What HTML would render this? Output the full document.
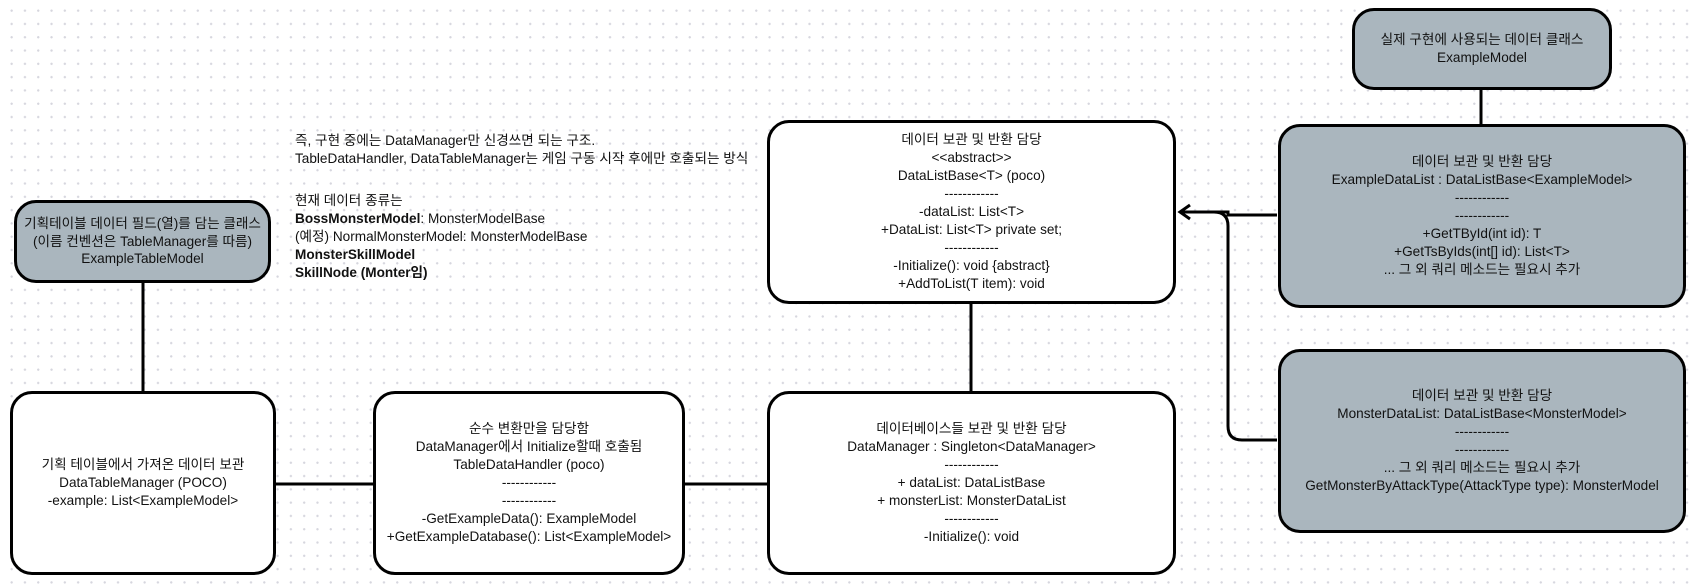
<!DOCTYPE html>
<html><head><meta charset="utf-8"><style>
body{margin:0;width:1696px;height:585px;overflow:hidden;background-color:#fff;
background-image:radial-gradient(circle,#d6d6de 1px,transparent 1.3px);background-size:13.3px 13.3px;background-position:5px 4px;
font-family:"Liberation Sans","Noto Sans CJK KR",sans-serif;font-size:13.6px;color:#111;position:relative}
.b{position:absolute;box-sizing:border-box;border:3px solid #000;border-radius:22px;background:#fff;display:flex;align-items:center;justify-content:center;text-align:center;line-height:17.9px;white-space:nowrap}
.g{background:#aab6be}
.t{position:absolute;line-height:18px;white-space:nowrap}
svg{position:absolute;left:0;top:0}
</style></head><body>
<svg width="1696" height="585">
<g stroke="#000" stroke-width="3" fill="none">
<line x1="143" y1="282" x2="143" y2="392"/>
<line x1="276" y1="484" x2="373" y2="484"/>
<line x1="685" y1="484" x2="767" y2="484"/>
<line x1="971" y1="304" x2="971" y2="392"/>
<line x1="1481" y1="90" x2="1481" y2="124"/>
<path d="M1277 215 L1228 215 L1228 212 L1180 212"/>
<path d="M1277 440 L1242 440 Q1228 440 1228 426 L1228 226 Q1228 212 1214 212"/>
<path d="M1190 205 L1180 212 L1190 219"/>
</g>
</svg>
<div class="b g" style="left:1352px;top:8px;width:260px;height:82px">실제 구현에 사용되는 데이터 클래스<br>ExampleModel</div>
<div class="b g" style="left:1278px;top:124px;width:408px;height:184px">데이터 보관 및 반환 담당<br>ExampleDataList : DataListBase&lt;ExampleModel&gt;<br>------------<br>------------<br>+GetTById(int id): T<br>+GetTsByIds(int[] id): List&lt;T&gt;<br>... 그 외 쿼리 메소드는 필요시 추가</div>
<div class="b g" style="left:1278px;top:349px;width:408px;height:184px">데이터 보관 및 반환 담당<br>MonsterDataList: DataListBase&lt;MonsterModel&gt;<br>------------<br>------------<br>... 그 외 쿼리 메소드는 필요시 추가<br>GetMonsterByAttackType(AttackType type): MonsterModel</div>
<div class="b" style="left:767px;top:120px;width:409px;height:184px">데이터 보관 및 반환 담당<br>&lt;&lt;abstract&gt;&gt;<br>DataListBase&lt;T&gt; (poco)<br>------------<br>-dataList: List&lt;T&gt;<br>+DataList: List&lt;T&gt; private set;<br>------------<br>-Initialize(): void {abstract}<br>+AddToList(T item): void</div>
<div class="b" style="left:767px;top:391px;width:409px;height:184px">데이터베이스들 보관 및 반환 담당<br>DataManager : Singleton&lt;DataManager&gt;<br>------------<br>+ dataList: DataListBase<br>+ monsterList: MonsterDataList<br>------------<br>-Initialize(): void</div>
<div class="b" style="left:373px;top:391px;width:312px;height:184px">순수 변환만을 담당함<br>DataManager에서 Initialize할때 호출됨<br>TableDataHandler (poco)<br>------------<br>------------<br>-GetExampleData(): ExampleModel<br>+GetExampleDatabase(): List&lt;ExampleModel&gt;</div>
<div class="b" style="left:10px;top:391px;width:266px;height:184px">기획 테이블에서 가져온 데이터 보관<br>DataTableManager (POCO)<br>-example: List&lt;ExampleModel&gt;</div>
<div class="b g" style="left:14px;top:200px;width:257px;height:83px">기획테이블 데이터 필드(열)를 담는 클래스<br>(이름 컨벤션은 TableManager를 따름)<br>ExampleTableModel</div>
<div class="t" style="left:295px;top:132px">즉, 구현 중에는 DataManager만 신경쓰면 되는 구조.<br>TableDataHandler, DataTableManager는 게임 구동 시작 후에만 호출되는 방식</div>
<div class="t" style="left:295px;top:192px">현재 데이터 종류는<br><b>BossMonsterModel</b>: MonsterModelBase<br>(예정) NormalMonsterModel: MonsterModelBase<br><b>MonsterSkillModel</b><br><b>SkillNode (Monter임)</b></div>
</body></html>
